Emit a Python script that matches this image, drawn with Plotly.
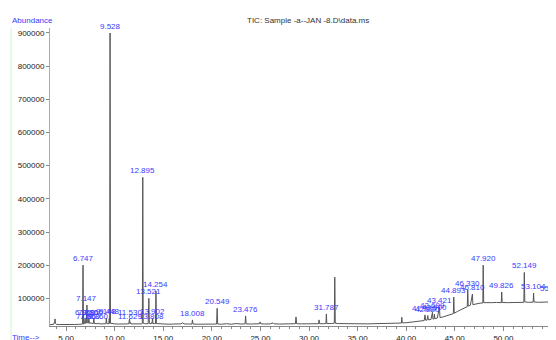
import plotly.graph_objects as go

# Total ion chromatogram: retention time (min) / abundance
tic_time = [
    3.35, 3.60, 3.75, 3.82, 3.87, 3.92, 4.00, 4.30, 4.70, 5.10, 5.50, 5.90, 6.30, 6.60, 6.70,
    6.747, 6.79, 6.90, 6.96, 7.00, 7.05, 7.086, 7.11, 7.147, 7.19, 7.30, 7.35, 7.40, 7.50,
    7.56, 7.62, 7.80, 7.86, 7.92, 8.10, 8.30, 8.36, 8.42, 8.70, 9.00, 9.10, 9.148, 9.20,
    9.40, 9.448, 9.49, 9.528, 9.57, 9.70, 10.00, 10.40, 10.80, 11.20, 11.45, 11.53, 11.58,
    11.629, 11.68, 12.00, 12.40, 12.80, 12.85, 12.895, 12.94, 13.10, 13.45, 13.521, 13.57,
    13.75, 13.808, 13.85, 13.902, 13.95, 14.20, 14.254, 14.30, 14.60, 15.00, 15.50, 16.00,
    16.50, 16.80, 17.00, 17.15, 17.60, 17.95, 18.008, 18.06, 18.50, 19.00, 19.50, 20.00,
    20.49, 20.549, 20.60, 21.00, 21.50, 22.00, 22.50, 23.00, 23.42, 23.476, 23.53, 24.00,
    24.50, 24.90, 24.96, 25.02, 25.40, 26.00, 26.30, 26.40, 27.00, 27.50, 28.00, 28.60,
    28.66, 28.72, 29.20, 29.80, 30.40, 30.98, 31.03, 31.08, 31.50, 31.74, 31.787, 31.83,
    32.30, 32.60, 32.65, 32.70, 33.00, 33.60, 34.20, 34.80, 35.40, 36.00, 36.60, 37.20,
    37.80, 38.40, 39.00, 39.50, 39.54, 39.60, 40.00, 40.50, 41.00, 41.50, 41.85, 41.93,
    42.00, 42.15, 42.22, 42.28, 42.55, 42.699, 42.75, 42.85, 42.90, 42.95, 43.20, 43.421,
    43.47, 43.80, 44.20, 44.60, 44.85, 44.893, 44.94, 45.30, 45.70, 46.00, 46.28, 46.330,
    46.38, 46.60, 46.810, 46.86, 47.20, 47.60, 47.88, 47.920, 47.97, 48.30, 48.80, 49.30,
    49.78, 49.826, 49.87, 50.40, 51.00, 51.60, 52.10, 52.149, 52.20, 52.60, 53.06, 53.104,
    53.15, 53.60, 54.20, 54.80, 55.02, 55.062, 55.11, 55.41,
]
tic_abundance = [
    20500, 21000, 22000, 30000, 38000, 24000, 21500, 21000, 20500, 21000, 20800, 21200, 21500, 22000, 22500,
    200000, 23000, 24000, 38000, 25000, 24500, 27000, 26000, 80000, 26000, 25500, 38000, 25000, 24500,
    27000, 24500, 24000, 38000, 24000, 23500, 23500, 26000, 23000, 23000, 23000, 23500, 40000, 23500,
    23500, 40000, 24000, 900000, 25000, 24000, 23000, 22500, 22500, 22500, 23000, 38000, 23500,
    27000, 23000, 22500, 22500, 23000, 24000, 465000, 25000, 23500, 23500, 100000, 24000,
    23500, 27000, 24000, 40000, 24000, 23500, 122000, 24000, 23000, 22500, 22000, 22500,
    22500, 23000, 26000, 23000, 22500, 22500, 35000, 22500, 22000, 22000, 22500, 22000,
    22500, 70000, 22500, 22000, 23500, 22000, 24000, 22500, 23000, 47000, 23000, 22500,
    23000, 23500, 29000, 23500, 22500, 23000, 26000, 23000, 22500, 23500, 23000, 23500,
    44000, 23500, 23000, 23500, 23000, 23500, 35000, 23500, 23500, 24000, 53000, 24000,
    24000, 25000, 164000, 25000, 24000, 23500, 23500, 23500, 23000, 23000, 23500, 23500,
    24000, 24500, 25000, 25500, 43000, 26000, 26500, 28000, 30000, 32000, 33000, 50000,
    34000, 34500, 48000, 35000, 36500, 58000, 37500, 38000, 52000, 38500, 40500, 74000,
    42000, 44000, 47000, 51000, 54000, 104000, 55000, 61000, 67000, 71000, 75000, 125000,
    76500, 79000, 113000, 81000, 84000, 85500, 86000, 200000, 87000, 86500, 87000, 87500,
    87000, 119000, 87500, 87000, 88000, 87500, 88000, 178000, 89000, 88000, 88500, 116000,
    89000, 88000, 88500, 89000, 89500, 110000, 90000, 89500,
]

# Integrated peaks whose retention times are printed on the chart
label_times = [
    6.747, 6.960, 7.086, 7.147, 7.350, 7.560, 7.860, 8.360, 9.148, 9.448, 9.528,
    11.530, 11.629, 12.895, 13.521, 13.808, 13.902, 14.254, 18.008, 20.549, 23.476,
    31.787, 41.930, 42.220, 42.699, 42.900, 43.421, 44.893, 46.330, 46.810, 47.920,
    49.826, 52.149, 53.104, 55.062,
]

y_ticks = [100000, 200000, 300000, 400000, 500000, 600000, 700000, 800000, 900000]
x_ticks = [5, 10, 15, 20, 25, 30, 35, 40, 45, 50, 55]

BLUE = "#3a3aff"
FONT = "Liberation Sans"

fig = go.Figure()
fig.add_trace(go.Scatter(
    x=tic_time, y=tic_abundance, mode="lines",
    line=dict(color="#555555", width=1),
    hoverinfo="skip", showlegend=False,
))

for t in label_times:
    i = min(range(len(tic_time)), key=lambda k: abs(tic_time[k] - t))
    fig.add_annotation(
        x=t, y=tic_abundance[i], text=f"{t:.3f}", showarrow=False,
        yanchor="bottom", xanchor="center", yshift=0,
        font=dict(family=FONT, size=8, color=BLUE),
    )

fig.add_annotation(xref="paper", yref="paper", x=-0.079, y=1.0, yshift=1,
                   text="Abundance", showarrow=False, xanchor="left", yanchor="bottom",
                   font=dict(family=FONT, size=8, color=BLUE))
fig.add_annotation(xref="paper", yref="paper", x=-0.079, y=0, yshift=-11,
                   text="Time-->", showarrow=False, xanchor="left", yanchor="middle",
                   font=dict(family=FONT, size=8, color=BLUE))
fig.add_annotation(xref="paper", yref="paper", x=0.51, y=1.0, yshift=1,
                   text="TIC: Sample -a--JAN -8.D\\data.ms", showarrow=False,
                   xanchor="center", yanchor="bottom",
                   font=dict(family=FONT, size=8, color="#333333"))

fig.add_shape(type="line", xref="paper", yref="paper", x0=-0.077, x1=-0.077, y0=1.0, y1=-0.05,
              line=dict(color="#ccf5cc", width=1))

# the page body adds an 8px offset, so the figure is sized to end at the window edge
fig.update_layout(
    width=548, height=332,
    margin=dict(l=42, r=0, t=20, b=14, autoexpand=False),
    paper_bgcolor="white", plot_bgcolor="white",
    font=dict(family=FONT, size=8, color="#222222"),
    xaxis=dict(
        range=[3.35, 55.41], tickvals=x_ticks, tickformat=".2f", automargin=False,
        showgrid=False, zeroline=False, showline=True, linecolor="#888888", linewidth=1,
        ticks="outside", ticklen=4, tickcolor="#888888",
        minor=dict(dtick=1, ticks="outside", ticklen=2, tickcolor="#888888", showgrid=False),
        tickfont=dict(family=FONT, size=8, color="#222222"),
    ),
    yaxis=dict(
        range=[16600, 915000], tickvals=y_ticks, tickformat="d", automargin=False,
        showgrid=False, zeroline=False, showline=True, linecolor="#aaaaaa", linewidth=1,
        ticks="outside", ticklen=3, tickcolor="#888888",
        tickfont=dict(family=FONT, size=8, color="#222222"),
    ),
)

fig.write_html("out.html")
